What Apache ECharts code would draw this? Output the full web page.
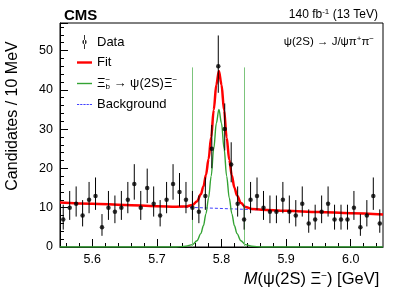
<!DOCTYPE html>
<html>
<head>
<meta charset="utf-8">
<script src="https://cdn.jsdelivr.net/npm/echarts@6/dist/echarts.min.js"></script>
<style>
html,body{margin:0;padding:0;background:#fff;}
#chart{width:399px;height:288px;}
</style>
</head>
<body>
<div id="chart"></div>
<script>
// ---- data ----
const binLow = 5.55;
const binWidth = 0.01;
const counts = [7,10,11,8,12,13,5,10,9,10,
                12,16,10,15,11,8,12,16,14,12,
                10,9,13,25,46,30,21,11,7,12,
                13,10,9,9,12,9,8,11,6,7,
                9,11,7,7,7,10,5,8,13,6];
const curveX = [5.55,5.60,5.65,5.70,5.73,5.745,5.755,5.762,5.768,5.772,5.776,5.780,5.784,5.788,5.792,5.796,
                5.800,5.804,5.808,5.812,5.816,5.820,5.824,5.830,5.837,5.847,5.862,5.90,5.95,6.00,6.05];
const fitY   = [11.3,11.0,10.7,10.4,10.25,10.3,10.7,11.6,13.4,15.4,18.4,22.4,27.9,34.9,41.3,44.8,
                41.3,34.8,27.8,22.2,18.2,15.1,13.1,11.2,10.2,9.7,9.5,9.2,8.9,8.6,8.3];
const signalY= [0,0,0,0,0,0.2,0.6,1.6,3.4,5.4,8.5,12.5,18,25,31.5,35,
                31.5,25,18,12.5,8.5,5.4,3.4,1.6,0.6,0.2,0,0,0,0,0];
const bkgX = [5.55, 6.05];
const bkgY = [11.3, 8.3];
const windowX = [5.755, 5.835];
const windowTop = 45.7;
const xTickLabels = ['5.6','5.7','5.8','5.9','6.0'];
const yTickLabels = ['0','10','20','30','40','50'];

// ---- build ----
const dataPts = counts.map((n,i)=>[binLow + binWidth*(i+0.5), n]);
function garwoodLow(n){ if(n<=0) return 0; return n*Math.pow(1-1/(9*n)-1/(3*Math.sqrt(n)),3); }
function garwoodUp(n){ const m=n+1; return m*Math.pow(1-1/(9*m)+1/(3*Math.sqrt(m)),3); }
const errPts = counts.map((n,i)=>[binLow + binWidth*(i+0.5), garwoodLow(n), garwoodUp(n)]);
const fitPts = curveX.map((x,i)=>[x, fitY[i]]);
const sigPts = curveX.map((x,i)=>[x, signalY[i]]);
const bkgPts = bkgX.map((x,i)=>[x, bkgY[i]]);

// tick scaffolding (category axes used only to draw tick marks at 0.02 / 0.1)
const tickCats = [];
for(let k=0;k<=50;k++){ tickCats.push((5.55+0.01*k).toFixed(2)); }

const FONT = 'Liberation Sans, Arial, Helvetica, sans-serif';
const chart = echarts.init(document.getElementById('chart'), null, {renderer:'canvas'});

const legendNames = {
  'Data':'Data',
  'Fit':'Fit',
  'sig':'{t|Ξ}{sp|−}{sb|b}{t| → ψ(2S)Ξ}{sp2|−}',
  'Background':'Background'
};

const option = {
  animation:false,
  backgroundColor:'#fff',
  textStyle:{fontFamily:FONT},
  title:[
    {text:'CMS', left:59, top:3, textStyle:{fontFamily:FONT, fontSize:15, fontWeight:'bold', color:'#000'}},
    {text:'140 fb{sp|-1} (13 TeV)', right:16, top:3,
     textStyle:{fontFamily:FONT, fontSize:12, fontWeight:'normal', color:'#000',
       rich:{sp:{fontSize:8, verticalAlign:'top', fontFamily:FONT, color:'#000', lineHeight:13}}}},
    {text:'ψ(2S) → J/ψπ{sp|+}π{sp|−}', right:20, top:30,
     textStyle:{fontFamily:FONT, fontSize:11.5, fontWeight:'normal', color:'#000',
       rich:{sp:{fontSize:8, verticalAlign:'top', fontFamily:FONT, color:'#000', lineHeight:14}}}}
  ],
  grid:{left:60, right:16, top:23, bottom:41, show:true, borderColor:'#000', borderWidth:1,
        backgroundColor:'transparent', containLabel:false, outerBoundsMode:'none'},
  legend:{
    orient:'vertical', left:72, top:30, itemWidth:15, itemHeight:14, itemGap:7,
    selectedMode:false,
    textStyle:{fontFamily:FONT, fontSize:13, color:'#000',
      rich:{
        t:{fontSize:13, fontFamily:FONT, color:'#000', lineHeight:15},
        sp:{fontSize:8, fontFamily:FONT, color:'#000', verticalAlign:'top', width:0, lineHeight:15},
        sb:{fontSize:8, fontFamily:FONT, color:'#000', verticalAlign:'bottom', lineHeight:15},
        sp2:{fontSize:8, fontFamily:FONT, color:'#000', verticalAlign:'top', lineHeight:15}
      }},
    formatter:(name)=>legendNames[name],
    data:[
      {name:'Data', icon:'path://M7,0 L8,0 L8,14 L7,14 Z M5.3,7 A2.2,2.2 0 1 0 9.7,7 A2.2,2.2 0 1 0 5.3,7 Z'},
      {name:'Fit', icon:'path://M0,5.8 L15,5.8 L15,8.2 L0,8.2 Z'},
      {name:'sig', icon:'path://M0,6.3 L15,6.3 L15,7.7 L0,7.7 Z'},
      {name:'Background', icon:'path://M0,6.5 L2.2,6.5 L2.2,7.5 L0,7.5 Z M3.2,6.5 L5.4,6.5 L5.4,7.5 L3.2,7.5 Z M6.4,6.5 L8.6,6.5 L8.6,7.5 L6.4,7.5 Z M9.6,6.5 L11.8,6.5 L11.8,7.5 L9.6,7.5 Z M12.8,6.5 L15,6.5 L15,7.5 L12.8,7.5 Z'}
    ]
  },
  xAxis:[
    {type:'value', min:5.55, max:6.05, interval:0.05, gridIndex:0, position:'bottom',
     axisLine:{show:true, lineStyle:{color:'#000', width:1}},
     axisTick:{show:false}, splitLine:{show:false},
     axisLabel:{color:'#000', fontSize:12.5, fontFamily:FONT, margin:6, showMinLabel:false, showMaxLabel:false,
       formatter:(v)=>{ const k=Math.round(v*100); if(k%10!==0) return ''; const s=(k/100).toFixed(1); return xTickLabels.indexOf(s)>=0?s:''; }},
     name:'{i|M}(ψ(2S) Ξ{sp|−}) [GeV]', nameLocation:'middle', nameGap:15,
     nameTextStyle:{fontFamily:FONT, fontSize:16.5, color:'#000', verticalAlign:'top', padding:[0,0,0,180],
       rich:{i:{fontStyle:'italic', fontSize:16.5, fontFamily:FONT, color:'#000'},
             sp:{fontSize:10, verticalAlign:'top', fontFamily:FONT, color:'#000', lineHeight:18}}}
    },
    {type:'category', data:tickCats, boundaryGap:false, gridIndex:0, position:'bottom',
     axisLine:{show:false}, axisLabel:{show:false}, splitLine:{show:false},
     axisTick:{show:true, inside:true, length:4, lineStyle:{color:'#000', width:1},
       interval:(idx)=> idx%2===1 }},
    {type:'category', data:tickCats, boundaryGap:false, gridIndex:0, position:'bottom',
     axisLine:{show:false}, axisLabel:{show:false}, splitLine:{show:false},
     axisTick:{show:true, inside:true, length:8, lineStyle:{color:'#000', width:1},
       interval:(idx)=> idx%10===5 }}
  ],
  yAxis:{
    type:'value', min:0, max:57, interval:10,
    axisLine:{show:true, lineStyle:{color:'#000', width:1}},
    axisTick:{show:true, inside:true, length:8, lineStyle:{color:'#000'}},
    minorTick:{show:true, splitNumber:5, length:4, lineStyle:{color:'#000'}},
    splitLine:{show:false}, minorSplitLine:{show:false},
    axisLabel:{color:'#000', fontSize:12.5, fontFamily:FONT, margin:7, showMaxLabel:false,
      formatter:(v)=>{ const s=String(Math.round(v)); return yTickLabels.indexOf(s)>=0?s:''; }},
    name:'Candidates / 10 MeV', nameLocation:'middle', nameGap:39, nameRotate:90,
    nameTextStyle:{fontFamily:FONT, fontSize:16, color:'#000', padding:[0,0,0,38]}
  },
  series:[
    {name:'Background', type:'line', data:bkgPts, symbol:'none', xAxisIndex:0, z:2,
     lineStyle:{color:'#4040ff', width:1, type:[3,2]}, itemStyle:{color:'#4040ff'}},
    {name:'sig', type:'line', data:sigPts, symbol:'none', smooth:0.35, smoothMonotone:'x', xAxisIndex:0, z:3,
     lineStyle:{color:'#33a333', width:1.4}, itemStyle:{color:'#33a333'},
     markLine:{silent:true, symbol:['none','none'], label:{show:false},
       lineStyle:{color:'#7cc47c', width:1, type:'solid'},
       data: windowX.map(x=>[{coord:[x,0]},{coord:[x,windowTop]}])}},
    {name:'Fit', type:'line', data:fitPts, symbol:'none', smooth:0.35, smoothMonotone:'x', xAxisIndex:0, z:4,
     lineStyle:{color:'#ff0000', width:2.5}, itemStyle:{color:'#ff0000'}},
    {name:'DataErr', type:'custom', xAxisIndex:0, z:5, data:errPts, encode:{x:0, y:[1,2]},
     renderItem:(params, api)=>{
       const x=api.value(0), lo=api.value(1), hi=api.value(2);
       const p1=api.coord([x,lo]), p2=api.coord([x,hi]);
       return {type:'line', shape:{x1:p1[0],y1:p1[1],x2:p2[0],y2:p2[1]}, style:{stroke:'#000', lineWidth:1}};
     }},
    {name:'Data', type:'scatter', xAxisIndex:0, z:6, data:dataPts, symbol:'circle', symbolSize:4.5,
     itemStyle:{color:'#000'}}
  ]
};
chart.setOption(option);
</script>
</body>
</html>
